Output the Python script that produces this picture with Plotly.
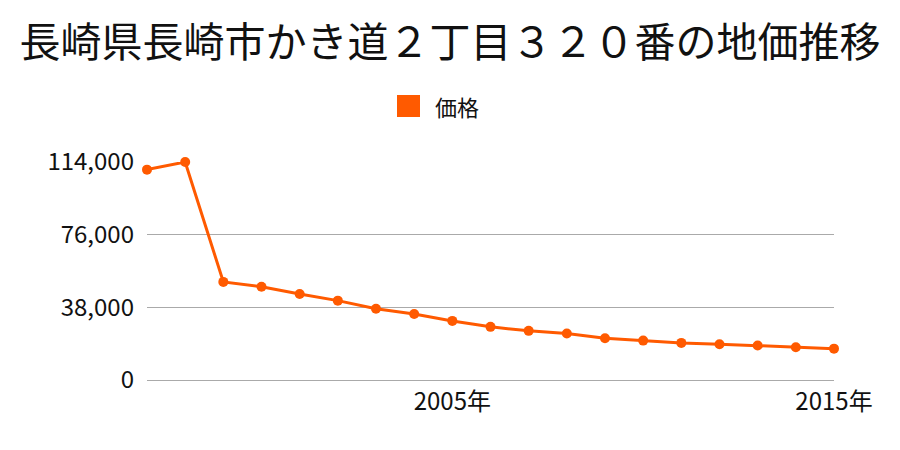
import plotly.graph_objects as go

years = list(range(1997, 2016))
prices = [110000, 114000, 51300, 48800, 45000, 41500, 37300, 34500, 30900,
          27800, 25700, 24300, 21800, 20600, 19400, 18700, 18000, 17100, 16400]
title_text = "長崎県長崎市かき道２丁目３２０番の地価推移"
series_name = "価格"
y_ticks = [0, 38000, 76000, 114000]
x_ticks = [2005, 2015]
x_ticktext = ["2005年", "2015年"]

COLOR = "#ff5a00"
FONT = "Noto Sans CJK JP"

fig = go.Figure()
fig.add_trace(go.Scatter(
    x=years, y=prices, mode="lines+markers", name=series_name,
    line=dict(color=COLOR, width=3),
    marker=dict(color=COLOR, size=10),
    cliponaxis=False, showlegend=False,
))

L, R, T, B = 147, 66, 162, 70
pw, ph = 900 - L - R, 450 - T - B

def px_x(px):
    return (px - L) / pw

def px_y(py):
    return (450 - B - py) / ph

fig.add_shape(type="rect", xref="paper", yref="paper",
              x0=px_x(397), x1=px_x(420), y0=px_y(117), y1=px_y(95),
              fillcolor=COLOR, line=dict(width=0))
fig.add_annotation(xref="paper", yref="paper", x=px_x(433), y=px_y(106),
                   xanchor="left", yanchor="middle", showarrow=False,
                   text=series_name, font=dict(size=22, color="#111", family=FONT))

fig.update_layout(
    width=900, height=450,
    margin=dict(l=L, r=R, t=T, b=B),
    paper_bgcolor="white", plot_bgcolor="white",
    font=dict(family=FONT, color="#111"),
    title=dict(text=title_text, x=0.5, xanchor="center", y=1 - 43 / 450,
               yanchor="middle", font=dict(size=41, color="#111", family=FONT)),
    showlegend=False,
)
fig.update_xaxes(range=[1997, 2015], tickvals=x_ticks, ticktext=x_ticktext,
                 showgrid=False, showline=True, linecolor="#aaaaaa", linewidth=1,
                 ticks="", tickfont=dict(size=24), zeroline=False)
fig.update_yaxes(range=[0, 114000], tickvals=y_ticks, tickformat=",d",
                 showgrid=True, gridcolor="#aaaaaa", gridwidth=1,
                 showline=False, ticks="", ticklabelstandoff=12,
                 tickfont=dict(size=24), zeroline=False)

fig.write_html("out.html")
